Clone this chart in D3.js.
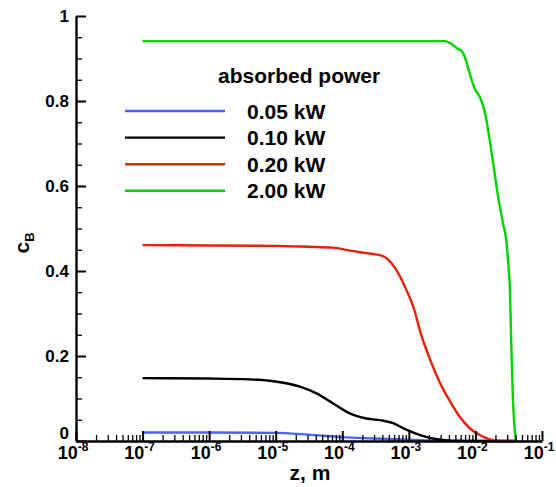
<!DOCTYPE html>
<html>
<head>
<meta charset="utf-8">
<script src="https://cdn.jsdelivr.net/npm/d3@7"></script>
<style>
  html, body { margin: 0; padding: 0; background: #fff; }
  svg { display: block; font-family: "Liberation Sans", Arial, Helvetica, sans-serif; font-weight: bold; }
</style>
</head>
<body>
<svg id="chart" width="556" height="487"></svg>
<script>
// Axial position z (m) and concentration c_B for each absorbed power
const seriesLabels = ["0.05 kW", "0.10 kW", "0.20 kW", "2.00 kW"];
const seriesColors = ["#4a62ff", "#000000", "#e8200a", "#00d400"];

const zBlue = [1e-7, 1e-6, 1e-5, 3e-5, 1e-4, 3e-4, 1e-3, 3e-3, 1e-2, 4e-2];
const cBlue = [0.020, 0.020, 0.019, 0.015, 0.009, 0.006, 0.003, 0.0005, 0, 0];

const zBlack = [1e-7, 1e-6, 4.1e-6, 1.3e-5, 2.3e-5, 4.1e-5, 7.2e-5, 1.3e-4, 2.3e-4, 4.1e-4, 5.8e-4, 9.3e-4, 1.6e-3, 2.6e-3, 4.2e-3, 1e-2, 4e-2];
const cBlack = [0.148, 0.147, 0.145, 0.137, 0.128, 0.112, 0.089, 0.065, 0.053, 0.048, 0.042, 0.026, 0.012, 0.004, 0.001, 0, 0];

const zRed = [1e-7, 1e-6, 1e-5, 3e-5, 7.2e-5, 1.3e-4, 2.3e-4, 3.9e-4, 4.8e-4, 6.5e-4, 9.2e-4, 1.2e-3, 1.46e-3, 2.1e-3, 2.95e-3, 4.2e-3, 5.8e-3, 8.2e-3, 1.16e-2, 1.64e-2, 2.3e-2, 4e-2];
const cRed = [0.461, 0.460, 0.459, 0.457, 0.455, 0.448, 0.442, 0.436, 0.428, 0.402, 0.355, 0.310, 0.261, 0.190, 0.136, 0.092, 0.057, 0.030, 0.014, 0.004, 0, 0];

const zGreen = [1e-7, 1e-5, 1e-3, 3.5e-3, 4.4e-3, 5.5e-3, 6.2e-3, 6.9e-3, 8.2e-3, 9.8e-3, 1.16e-2, 1.38e-2, 1.64e-2, 1.85e-2, 2.19e-2, 2.6e-2, 2.93e-2, 3.17e-2, 3.29e-2, 3.48e-2, 3.68e-2, 4.05e-2];
const cGreen = [0.941, 0.941, 0.941, 0.941, 0.934, 0.922, 0.918, 0.904, 0.865, 0.828, 0.810, 0.775, 0.708, 0.653, 0.575, 0.512, 0.468, 0.402, 0.363, 0.207, 0.089, 0];

const xMajorTicks = [1e-8, 1e-7, 1e-6, 1e-5, 1e-4, 1e-3, 1e-2, 1e-1];
const xTickExponents = ["-8", "-7", "-6", "-5", "-4", "-3", "-2", "-1"];
const yMajorTicks = [0, 0.2, 0.4, 0.6, 0.8, 1];
const yTickLabels = ["0", "0.2", "0.4", "0.6", "0.8", "1"];
const legendTitle = "absorbed power";

const zSeries = [zBlue, zBlack, zRed, zGreen];
const cSeries = [cBlue, cBlack, cRed, cGreen];

const svg = d3.select("#chart");
const x = d3.scaleLog().domain([1e-8, 1e-1]).range([76, 542]);
const y = d3.scaleLinear().domain([0, 1]).range([441, 16]);

// minor ticks: 2..9 within each decade, every 0.05 on the y axis
const xMinor = [];
for (let e = -8; e < -1; e++) for (let m = 2; m <= 9; m++) xMinor.push(m * Math.pow(10, e));
const yMinor = d3.range(0, 1.0001, 0.05).filter(v => Math.abs(v * 5 - Math.round(v * 5)) > 1e-6);

// curves
const line = d3.line().x(d => x(d[0])).y(d => y(d[1])).curve(d3.curveMonotoneX);
zSeries.forEach((zs, i) => {
  svg.append("path")
    .datum(zs.map((z, k) => [z, cSeries[i][k]]))
    .attr("d", line)
    .attr("fill", "none")
    .attr("stroke", seriesColors[i])
    .attr("stroke-width", 2.4)
    .attr("stroke-linejoin", "round");
});

// x axis (ticks point into the plot)
const gx = svg.append("g").attr("transform", `translate(0,${y(0)})`);
gx.append("g").call(d3.axisBottom(x).tickValues(xMinor).tickSize(-6).tickFormat(""))
  .call(g => g.select(".domain").remove())
  .call(g => g.selectAll("line").attr("stroke-width", 1.3));
gx.append("g").call(d3.axisBottom(x).tickValues(xMajorTicks).tickSize(-10).tickSizeOuter(0).tickFormat(""))
  .call(g => g.select(".domain").attr("stroke-width", 2.4))
  .call(g => g.selectAll("line").attr("stroke-width", 2));

const xl = svg.append("g").attr("font-size", 18);
xMajorTicks.forEach((v, i) => {
  const t = xl.append("text").attr("x", x(v) - 3).attr("y", 459).attr("text-anchor", "middle");
  t.append("tspan").text("10");
  t.append("tspan").attr("font-size", 12).attr("dy", -8).text(xTickExponents[i]);
});

// y axis
const gy = svg.append("g").attr("transform", `translate(${x(1e-8)},0)`);
gy.append("g").call(d3.axisLeft(y).tickValues(yMinor).tickSize(-6).tickFormat(""))
  .call(g => g.select(".domain").remove())
  .call(g => g.selectAll("line").attr("stroke-width", 1.3));
gy.append("g").call(d3.axisLeft(y).tickValues(yMajorTicks).tickSize(-10).tickSizeOuter(0).tickFormat(""))
  .call(g => g.select(".domain").attr("stroke-width", 2.4))
  .call(g => g.selectAll("line").attr("stroke-width", 2));

const yl = svg.append("g").attr("font-size", 17).attr("text-anchor", "end");
yMajorTicks.forEach((v, i) => {
  yl.append("text")
    .attr("x", 69)
    .attr("y", v === 0 ? y(v) - 2 : y(v) + 6)
    .text(yTickLabels[i]);
});

// axis titles
svg.append("text").attr("x", 310).attr("y", 480).attr("text-anchor", "middle")
  .attr("font-size", 21).text("z, m");
const yt = svg.append("text").attr("transform", "translate(29,243) rotate(-90)")
  .attr("text-anchor", "middle").attr("font-size", 21);
yt.append("tspan").text("c");
yt.append("tspan").attr("font-size", 13).attr("dy", 5).text("B");

// legend
const lg = svg.append("g").attr("font-size", 21);
lg.append("text").attr("x", 218).attr("y", 83).text(legendTitle);
seriesLabels.forEach((lab, i) => {
  const ly = 111 + i * 26.6;
  lg.append("line").attr("x1", 125).attr("x2", 225).attr("y1", ly).attr("y2", ly)
    .attr("stroke", seriesColors[i]).attr("stroke-width", 2.4);
  lg.append("text").attr("x", 247).attr("y", ly + 7.5).text(lab);
});
</script>
</body>
</html>
